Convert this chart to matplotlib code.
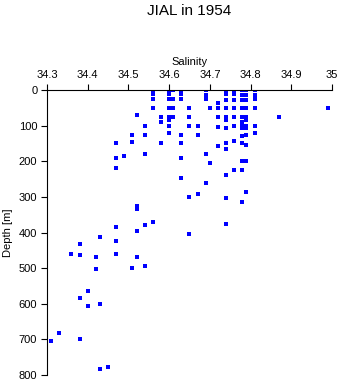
import numpy as np
import matplotlib
matplotlib.use('Agg')
import matplotlib.pyplot as plt

plt.rcParams['font.family'] = ['Liberation Sans', 'DejaVu Sans']

# salinity columns and the depths [m] sampled at each one
sal_levels = [34.31, 34.33, 34.36, 34.38, 34.40, 34.42, 34.43, 34.45, 34.47, 34.49,
              34.51, 34.52, 34.54, 34.56, 34.58, 34.60, 34.61, 34.63, 34.65, 34.67,
              34.69, 34.70, 34.72, 34.74, 34.76, 34.78, 34.79, 34.81, 34.87, 34.99]
depths = [
    [705],
    [681],
    [461],
    [432, 464, 585, 700],
    [565, 605],
    [470, 503],
    [413, 602, 782],
    [778],
    [150, 190, 218, 385, 425, 461],
    [186],
    [126, 145, 501],
    [70, 326, 333, 397, 469],
    [100, 125, 180, 380, 495],
    [0, 10, 25, 50, 370],
    [75, 90, 150],
    [0, 10, 25, 50, 77, 83, 100, 120],
    [0, 25, 50, 77],
    [0, 10, 25, 125, 150, 190, 246],
    [50, 75, 100, 300, 405],
    [100, 126, 292],
    [0, 13, 25, 180, 262],
    [50, 205],
    [36, 50, 77, 103, 158],
    [0, 10, 27, 50, 75, 83, 106, 150, 165, 238, 302, 375],
    [0, 10, 27, 50, 75, 100, 142, 225],
    [0, 13, 27, 50, 75, 90, 100, 108, 130, 150, 200, 224, 313],
    [0, 13, 27, 50, 75, 83, 100, 108, 125, 154, 200, 286],
    [0, 13, 25, 50, 100, 120],
    [77],
    [50],
]
xticks = [34.3, 34.4, 34.5, 34.6, 34.7, 34.8, 34.9, 35.0]
xticklabels = ['34.3', '34.4', '34.5', '34.6', '34.7', '34.8', '34.9', '35']
yticks = [0, 100, 200, 300, 400, 500, 600, 700, 800]

sal = []
dep = []
for s, ds in zip(sal_levels, depths):
    for d in ds:
        sal.append(s)
        dep.append(d)

fig = plt.figure(figsize=(3.41, 3.84), dpi=100)
ax = fig.add_axes([0.1378, 0.0234, 0.8358, 0.7422])
ax.plot(sal, dep, 's', color='#0000ff', markersize=2.3, markeredgewidth=0,
        antialiased=False)

ax.set_xlim(34.3, 35.0)
ax.set_ylim(800, 0)
ax.xaxis.tick_top()
ax.xaxis.set_label_position('top')
ax.set_xticks(xticks)
ax.set_xticklabels(xticklabels)
ax.set_yticks(yticks)
ax.tick_params(direction='out', length=4, width=0.8, labelsize=8, pad=3,
               colors='black')
for side in ['right', 'bottom']:
    ax.spines[side].set_visible(False)
for side in ['left', 'top']:
    ax.spines[side].set_linewidth(0.8)

ax.set_xlabel('Salinity', fontsize=8, labelpad=4)
ax.set_ylabel('Depth [m]', fontsize=8, labelpad=4)
fig.text(0.556, 0.972, 'JIAL in 1954', ha='center', va='center', fontsize=11)

plt.savefig('out.png', dpi=100)
